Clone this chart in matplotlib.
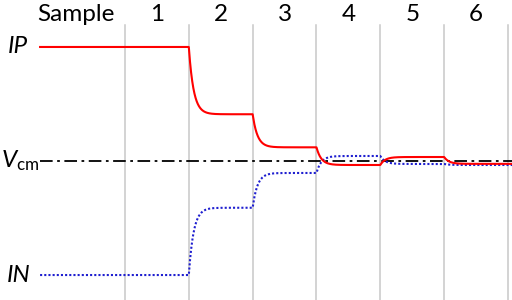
import numpy as np
import matplotlib.pyplot as plt

plt.rcParams['font.family'] = ['Lato', 'DejaVu Sans']
plt.rcParams['mathtext.fontset'] = 'custom'
plt.rcParams['mathtext.rm'] = 'Lato'
plt.rcParams['mathtext.it'] = 'Lato:italic'

# sample boundaries (sample n spans n-1 .. n)
samples = ['1', '2', '3', '4', '5', '6']
boundaries = [0, 1, 2, 3, 4, 5, 6]

# settled levels, normalised so IP start = +1, IN start = -1, Vcm = 0
ip_levels = [1.0, 0.41, 0.12, -0.035, 0.035, -0.025]
in_levels = [-1.0, -0.41, -0.105, 0.044, -0.026, -0.035]
vcm = 0.0

t_start, t_end = -1.33, 6.1
tau = 0.075  # settling time constant (in samples)


def settle(levels):
    """Piecewise exponential settling; level k starts at boundary k."""
    t = np.linspace(t_start, t_end, 3000)
    v = np.full_like(t, levels[0])
    for k in range(1, len(levels)):
        m = t >= boundaries[k]
        v[m] = levels[k] + (levels[k - 1] - levels[k]) * np.exp(-(t[m] - boundaries[k]) / tau)
    return t, v


fig = plt.figure(figsize=(5.12, 3.0), dpi=100)
ax = fig.add_axes([0, 0, 1, 1])
ax.set_xlim(-1.958, 6.063)
ax.set_ylim(-1.219, 1.412)
ax.axis('off')

for b in boundaries:
    ax.plot([b, b], [-1.3, 1.19], color='#c8c8c8', lw=1.1, zorder=1)

ax.plot([t_start, t_end], [vcm, vcm], color='black', lw=1.3,
        dashes=(7, 2.5, 1.5, 2.5), zorder=2)

t, v = settle(in_levels)
ax.plot(t, v, color='#1f1fd0', lw=1.5, ls=(0, (1, 1)), zorder=3)
t, v = settle(ip_levels)
ax.plot(t, v, color='#ff0000', lw=1.5, zorder=4)

fs = 17.5
ax.text(-0.77, 1.285, 'Sample', fontsize=fs, ha='center', va='center')
for i, s in enumerate(samples):
    ax.text(i + 0.5, 1.285, s, fontsize=fs, ha='center', va='center')

ax.text(-1.68, 1.0, 'IP', fontsize=fs, style='italic', ha='center', va='center')
ax.text(-1.66, -1.0, 'IN', fontsize=fs, style='italic', ha='center', va='center')
ax.text(-1.94, 0.0, r'$V_{\mathrm{cm}}$', fontsize=fs, ha='left', va='center')

fig.savefig('out.png', dpi=100)
